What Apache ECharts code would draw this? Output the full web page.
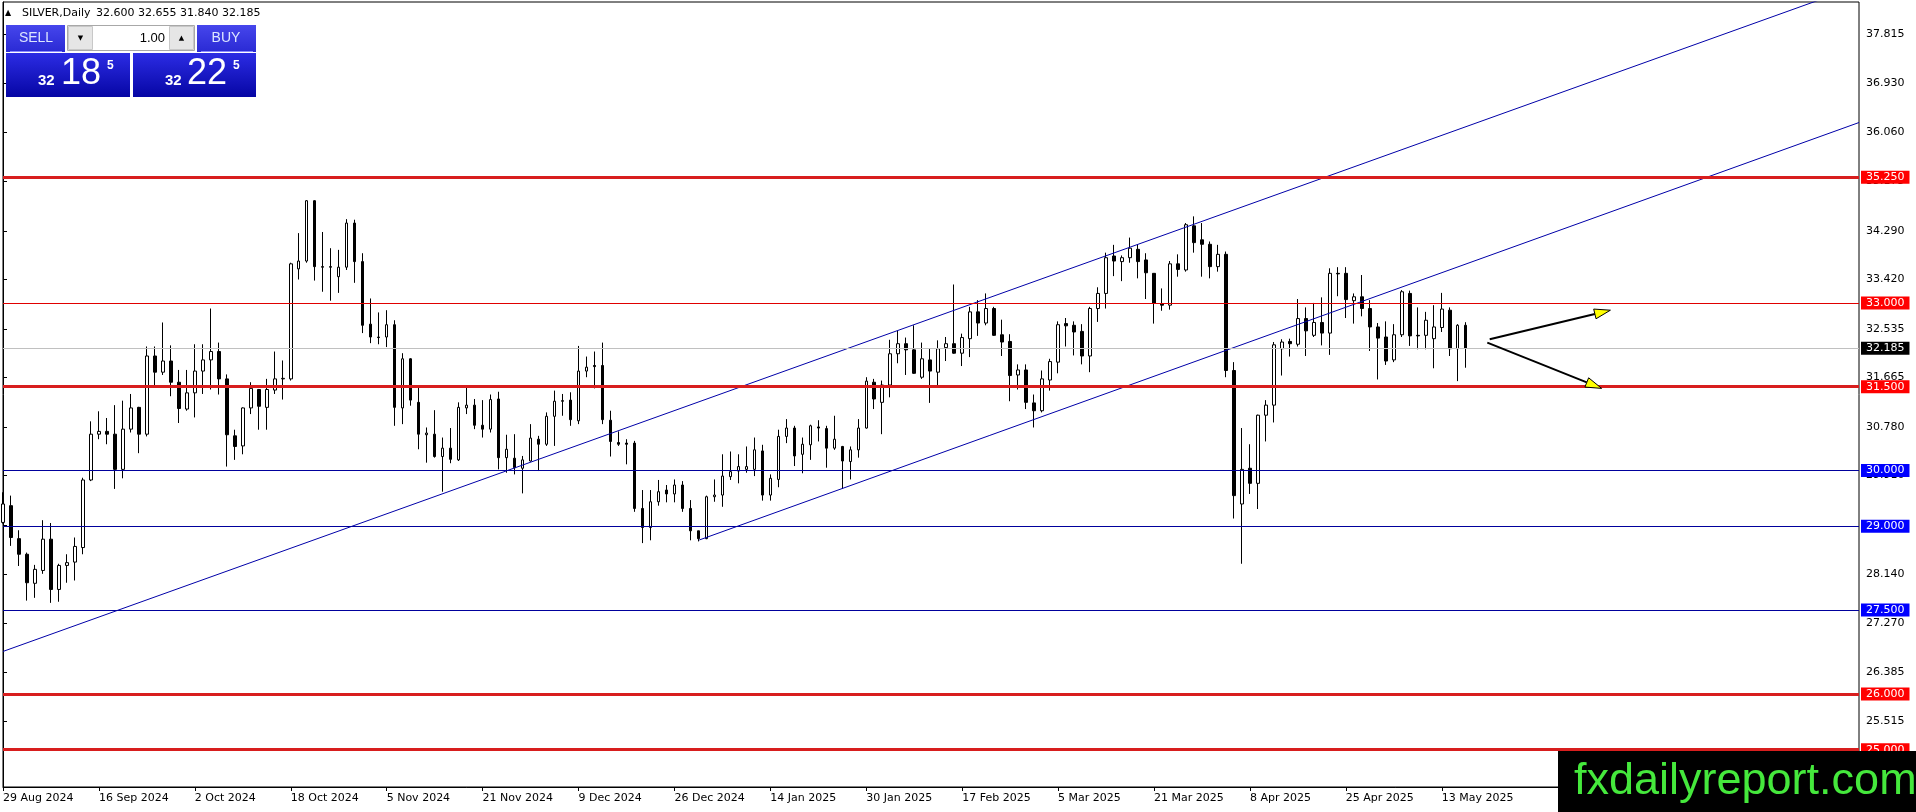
<!DOCTYPE html>
<html>
<head>
<meta charset="utf-8">
<title>SILVER, Daily</title>
<script src="https://cdn.jsdelivr.net/npm/echarts@6.0.0/dist/echarts.min.js"></script>
<style>
  html, body { margin: 0; padding: 0; background: #fff; }
  #chart { width: 1916px; height: 812px; }
</style>
</head>
<body>
<div id="chart"></div>
<script>
// daily bars from 29 Aug 2024, one per trading day (index = bar number)
const opens = [
  29.07, 29.37, 28.78, 28.50, 27.98, 28.21, 28.77, 27.87, 28.30, 28.36,
  28.62, 29.83, 30.65, 30.70, 30.65, 30.02, 30.74, 31.13, 30.65, 32.05,
  31.76, 31.96, 31.58, 31.10, 31.39, 31.78, 31.98, 32.13, 31.64, 30.62,
  30.44, 31.12, 31.45, 31.13, 31.44, 31.64, 31.64, 33.61, 33.75, 34.83,
  33.65, 33.65, 33.47, 33.64, 34.43, 33.74, 32.62, 32.39, 32.39, 32.61,
  31.12, 32.00, 31.22, 30.64, 30.65, 30.25, 30.40, 30.19, 31.12, 31.17,
  30.81, 30.74, 31.28, 30.23, 30.22, 30.04, 30.17, 30.56, 30.47, 30.97,
  31.25, 31.26, 30.89, 31.78, 31.88, 31.88, 30.90, 30.50, 30.49, 30.49,
  29.32, 28.98, 29.44, 29.65, 29.58, 29.74, 29.32, 28.92, 28.78, 29.53,
  29.56, 29.89, 29.99, 30.02, 30.02, 30.35, 29.56, 29.84, 30.61, 30.76,
  30.29, 30.46, 30.78, 30.75, 30.40, 30.43, 30.16, 30.37, 30.76, 31.58,
  31.22, 31.53, 32.09, 32.27, 32.16, 31.67, 31.98, 31.76, 32.20, 32.27,
  32.10, 32.36, 32.84, 32.64, 32.90, 32.43, 32.31, 31.71, 31.80, 31.21,
  31.07, 31.62, 31.94, 32.63, 32.60, 32.49, 32.05, 32.90, 33.17, 33.84,
  33.74, 33.81, 33.96, 33.77, 33.53, 32.99, 32.96, 33.70, 33.59, 34.38,
  34.13, 34.05, 33.65, 33.87, 31.79, 29.40, 30.04, 29.77, 30.99, 31.17,
  32.18, 32.31, 32.26, 32.72, 32.42, 32.65, 32.46, 33.53, 33.53, 33.04,
  33.11, 32.90, 32.57, 32.39, 31.98, 32.43, 33.17, 32.42, 32.42, 32.36,
  32.56, 32.87, 32.18, 32.600
];
const highs = [
  29.61, 29.55, 28.93, 28.53, 28.31, 29.11, 29.06, 28.33, 28.50, 28.80,
  29.87, 30.88, 31.06, 30.94, 31.17, 31.25, 31.37, 31.14, 32.22, 32.22,
  32.65, 32.24, 31.80, 31.80, 32.26, 32.26, 32.90, 32.29, 31.72, 30.73,
  31.13, 31.58, 31.46, 31.64, 32.13, 31.97, 33.72, 34.25, 34.84, 34.84,
  34.27, 33.98, 33.95, 34.50, 34.49, 33.89, 33.08, 32.83, 32.87, 32.69,
  32.10, 32.01, 31.49, 30.77, 31.08, 30.59, 30.76, 31.22, 31.49, 31.28,
  31.26, 31.36, 31.41, 30.64, 30.65, 30.26, 30.83, 30.62, 31.04, 31.43,
  31.37, 31.40, 32.23, 32.04, 32.13, 32.29, 31.07, 30.70, 30.56, 30.53,
  29.65, 29.65, 29.83, 29.74, 29.84, 29.81, 29.47, 28.92, 29.55, 29.84,
  30.29, 30.34, 30.29, 30.43, 30.59, 30.46, 29.93, 30.73, 30.92, 30.80,
  30.59, 30.82, 30.90, 30.80, 30.98, 30.44, 30.43, 30.92, 31.67, 31.64,
  31.61, 32.34, 32.50, 32.38, 32.60, 32.29, 32.18, 32.33, 32.39, 33.33,
  32.45, 32.93, 33.05, 33.17, 32.93, 32.70, 32.44, 31.90, 31.90, 31.36,
  31.79, 32.00, 32.67, 32.73, 32.67, 32.62, 32.93, 33.28, 33.90, 34.04,
  33.85, 34.17, 34.04, 33.89, 33.53, 33.26, 33.75, 33.87, 34.43, 34.55,
  34.43, 34.10, 34.04, 33.92, 31.94, 30.76, 30.47, 31.00, 31.26, 32.30,
  32.35, 32.36, 33.07, 32.92, 33.00, 33.10, 33.62, 33.64, 33.64, 33.17,
  33.50, 33.05, 32.64, 32.67, 32.62, 33.23, 33.22, 32.92, 32.84, 32.96,
  33.18, 32.92, 32.62, 32.655
];
const lows = [
  29.05, 28.65, 28.29, 27.67, 27.72, 28.15, 27.63, 27.65, 27.99, 28.03,
  28.50, 29.81, 30.56, 30.47, 29.67, 29.86, 30.68, 30.31, 30.61, 31.52,
  31.71, 31.33, 30.85, 31.07, 30.95, 31.37, 31.45, 31.36, 30.07, 30.19,
  30.29, 31.01, 30.73, 30.73, 31.37, 31.27, 31.61, 33.42, 33.72, 33.40,
  33.20, 33.04, 33.18, 33.59, 33.36, 32.46, 32.28, 32.26, 32.21, 30.80,
  30.83, 31.16, 30.38, 30.14, 30.23, 29.62, 30.13, 30.17, 31.01, 30.74,
  30.59, 30.68, 30.02, 29.96, 29.93, 29.59, 30.16, 29.99, 30.44, 30.44,
  30.98, 30.80, 30.83, 31.67, 31.47, 30.83, 30.25, 30.44, 30.11, 29.26,
  28.70, 28.75, 29.37, 29.43, 29.43, 29.26, 28.75, 28.73, 28.77, 29.44,
  29.35, 29.83, 29.77, 29.96, 29.90, 29.46, 29.46, 29.70, 30.49, 30.08,
  29.95, 30.19, 30.52, 30.05, 30.37, 29.67, 29.84, 30.23, 30.75, 31.10,
  30.65, 31.31, 31.92, 31.71, 31.73, 31.64, 31.21, 31.48, 31.96, 32.09,
  31.87, 32.03, 32.41, 32.60, 32.41, 32.05, 31.24, 31.45, 31.10, 30.77,
  31.04, 31.43, 31.74, 32.22, 32.06, 31.90, 31.76, 32.66, 32.90, 33.48,
  33.39, 33.72, 33.44, 33.07, 32.63, 32.86, 32.88, 33.47, 33.56, 33.90,
  33.47, 33.44, 33.56, 31.67, 29.14, 28.33, 29.58, 29.31, 30.52, 30.86,
  31.70, 32.04, 32.22, 32.05, 32.39, 32.24, 32.07, 33.12, 32.73, 32.63,
  32.76, 32.14, 31.63, 31.89, 31.94, 32.39, 32.23, 32.17, 32.17, 31.83,
  32.48, 32.05, 31.60, 31.840
];
const closes = [
  29.40, 28.80, 28.50, 27.99, 28.23, 28.77, 27.87, 28.30, 28.35, 28.64,
  29.83, 30.65, 30.70, 30.65, 30.02, 30.74, 31.12, 30.65, 32.05, 31.76,
  31.96, 31.58, 31.11, 31.39, 31.78, 31.98, 32.13, 31.64, 30.64, 30.43,
  31.12, 31.47, 31.15, 31.45, 31.64, 31.65, 33.70, 33.75, 34.83, 33.65,
  33.64, 33.64, 33.64, 34.43, 33.74, 32.60, 32.39, 32.38, 32.61, 31.13,
  32.00, 31.26, 30.65, 30.67, 30.25, 30.40, 30.20, 31.13, 31.17, 30.81,
  30.74, 31.27, 30.23, 30.38, 30.05, 30.19, 30.58, 30.47, 30.97, 31.24,
  31.24, 30.91, 31.78, 31.85, 31.86, 30.91, 30.52, 30.47, 30.47, 29.32,
  28.98, 29.44, 29.62, 29.58, 29.74, 29.32, 28.92, 28.78, 29.53, 29.56,
  29.90, 29.98, 30.07, 30.07, 30.37, 29.56, 29.86, 30.61, 30.76, 30.26,
  30.47, 30.80, 30.76, 30.40, 30.56, 30.17, 30.37, 30.76, 31.60, 31.28,
  31.53, 32.09, 32.27, 32.16, 31.74, 32.00, 31.78, 32.18, 32.27, 32.10,
  32.38, 32.84, 32.64, 32.90, 32.42, 32.30, 31.70, 31.80, 31.22, 31.07,
  31.64, 31.95, 32.61, 32.59, 32.48, 32.05, 32.90, 33.17, 33.81, 33.75,
  33.81, 33.98, 33.74, 33.54, 32.99, 32.96, 33.70, 33.60, 34.40, 34.08,
  34.05, 33.65, 33.87, 31.79, 29.55, 30.02, 29.77, 30.99, 31.17, 32.25,
  32.30, 32.27, 32.72, 32.50, 32.65, 32.46, 33.53, 33.52, 33.06, 33.11,
  32.90, 32.57, 32.37, 31.96, 32.43, 33.20, 32.41, 32.41, 32.69, 32.57,
  32.89, 32.18, 32.60, 32.185
];

// time axis labels, one every 12 bars
const tickLabels = [
  '29 Aug 2024', '16 Sep 2024', '2 Oct 2024', '18 Oct 2024', '5 Nov 2024',
  '21 Nov 2024', '9 Dec 2024', '26 Dec 2024', '14 Jan 2025', '30 Jan 2025',
  '17 Feb 2025', '5 Mar 2025', '21 Mar 2025', '8 Apr 2025', '25 Apr 2025',
  '13 May 2025'
];
const barsPerLabel = 12;
const priceTicks = [
  37.815, 36.930, 36.060, 35.175, 34.290, 33.420, 32.535, 31.665,
  30.780, 29.910, 29.025, 28.140, 27.270, 26.385, 25.515
];

// horizontal levels drawn on the chart
const redThickLevels = [35.25, 31.5, 26.0, 25.0];
const redThinLevels = [33.0];
const blueLevels = [30.0, 29.0, 27.5];
const lastPrice = closes[closes.length - 1];

// channel lines and arrows: [bar index, price] end points
const channelTop = [[0, 26.76], [232.2, 38.68]];
const channelBottom = [[87.1, 28.755], [232.2, 36.23]];
const arrowUp = [[186.0, 32.35], [201.1, 32.87]];
const arrowDown = [[185.7, 32.29], [200.0, 31.47]];

const FONT = 'DejaVu Sans';
const chart = echarts.init(document.getElementById('chart'));

const candles = opens.map((o, i) => [i, o, closes[i], lows[i], highs[i]]);
const labelIdx = tickLabels.map((_, i) => i * barsPerLabel);

function levelLine(value, lineColor, width, boxColor) {
  return {
    yAxis: value,
    lineStyle: { color: lineColor, width: width, type: 'solid' },
    label: {
      show: true,
      position: 'end',
      distance: 2,
      formatter: value.toFixed(3),
      color: '#fff',
      backgroundColor: boxColor,
      fontFamily: FONT,
      fontSize: 11,
      lineHeight: 12,
      padding: [1, 5, 0, 5]
    }
  };
}

const levelData = [].concat(
  redThickLevels.map(v => levelLine(v, '#d81e1e', 3, '#ff0000')),
  redThinLevels.map(v => levelLine(v, '#e00000', 1, '#ff0000')),
  blueLevels.map(v => levelLine(v, '#00009c', 1, '#0000ff')),
  [levelLine(lastPrice, '#c0c0c0', 1, '#000000')]
);

const option = {
  animation: false,
  backgroundColor: '#ffffff',
  grid: {
    left: 3, right: 57, top: 2, bottom: 25,
    show: true, borderColor: '#000', borderWidth: 1, backgroundColor: 'transparent'
  },
  xAxis: {
    type: 'value',
    min: 0,
    max: 232.2,
    splitLine: { show: false },
    axisLine: { show: true, onZero: false, lineStyle: { color: '#000', width: 1 } },
    axisTick: { show: true, length: 4, customValues: labelIdx, lineStyle: { color: '#000' } },
    axisLabel: {
      customValues: labelIdx,
      formatter: v => tickLabels[Math.round(v / barsPerLabel)] || '',
      align: 'left',
      margin: 6,
      color: '#000',
      fontFamily: FONT,
      fontSize: 11
    }
  },
  yAxis: {
    type: 'value',
    position: 'right',
    min: 24.333,
    max: 38.388,
    scale: true,
    splitLine: { show: false },
    axisLine: { show: true, lineStyle: { color: '#000', width: 1 } },
    axisTick: { show: true, length: 4, customValues: priceTicks, lineStyle: { color: '#000' } },
    axisLabel: {
      customValues: priceTicks,
      formatter: v => v.toFixed(3),
      margin: 7,
      color: '#000',
      fontFamily: FONT,
      fontSize: 11
    }
  },
  series: [
    {
      type: 'line',
      data: [],
      clip: false,
      silent: true,
      markLine: { silent: true, symbol: ['none', 'none'], animation: false, data: levelData }
    },
    {
      type: 'line', data: channelTop, symbol: 'none', silent: true, clip: true,
      lineStyle: { color: '#0000a8', width: 1 }
    },
    {
      type: 'line', data: channelBottom, symbol: 'none', silent: true, clip: true,
      lineStyle: { color: '#0000a8', width: 1 }
    },
    {
      type: 'candlestick',
      data: candles,
      barWidth: 3,
      clip: true,
      itemStyle: {
        color: '#ffffff', color0: '#000000',
        borderColor: '#000000', borderColor0: '#000000', borderWidth: 1
      }
    }
  ]
};

chart.setOption(option);

// arrows (data points converted to pixels)
function arrowShapes(pts) {
  const a = chart.convertToPixel({ gridIndex: 0 }, pts[0]);
  const b = chart.convertToPixel({ gridIndex: 0 }, pts[1]);
  const dx = b[0] - a[0], dy = b[1] - a[1];
  const len = Math.sqrt(dx * dx + dy * dy);
  const ux = dx / len, uy = dy / len;
  const headLen = 16, headHalf = 5;
  const bx = b[0] - ux * headLen, by = b[1] - uy * headLen;
  return [
    { type: 'line', z: 50, shape: { x1: a[0], y1: a[1], x2: bx, y2: by },
      style: { stroke: '#000', lineWidth: 2 } },
    { type: 'polygon', z: 51,
      shape: { points: [[b[0], b[1]], [bx - uy * headHalf, by + ux * headHalf], [bx + uy * headHalf, by - ux * headHalf]] },
      style: { fill: '#ffff00', stroke: '#000', lineWidth: 1 } }
  ];
}

function txt(x, y, text, size, color, extra) {
  return Object.assign({
    type: 'text', z: 101, x: x, y: y,
    style: Object.assign({ text: text, fill: color, fontSize: size, fontFamily: FONT, verticalAlign: 'middle' }, extra || {})
  });
}
function box(x, y, w, h, fill, stroke) {
  return { type: 'rect', z: 100, shape: { x: x, y: y, width: w, height: h },
    style: { fill: fill, stroke: stroke || null, lineWidth: 1 } };
}
const headFill = new echarts.graphic.LinearGradient(0, 0, 0, 1, [
  { offset: 0, color: '#4646ec' }, { offset: 1, color: '#2a2ad4' }]);
const priceFill = new echarts.graphic.LinearGradient(0, 0, 0, 1, [
  { offset: 0, color: '#2c2ce4' }, { offset: 1, color: '#0606a4' }]);

const panel = [
  txt(5, 13, '▲', 8, '#000'),
  txt(22, 13, 'SILVER,Daily', 11, '#000'),
  txt(96, 13, opens[opens.length - 1].toFixed(3) + ' ' + highs[highs.length - 1].toFixed(3) + ' ' +
    lows[lows.length - 1].toFixed(3) + ' ' + lastPrice.toFixed(3), 11, '#000'),
  box(6, 25, 59, 27, headFill),
  box(197, 25, 59, 27, headFill),
  { type: 'line', z: 101, shape: { x1: 10, y1: 51.5, x2: 62, y2: 51.5 }, style: { stroke: '#8a8aff', lineWidth: 1 } },
  { type: 'line', z: 101, shape: { x1: 201, y1: 51.5, x2: 253, y2: 51.5 }, style: { stroke: '#8a8aff', lineWidth: 1 } },
  txt(36, 38, 'SELL', 14, '#dde6ff', { align: 'center', fontFamily: 'Liberation Sans' }),
  txt(226, 38, 'BUY', 14, '#dde6ff', { align: 'center', fontFamily: 'Liberation Sans' }),
  box(67.5, 25.5, 127, 25, '#ffffff', '#a8a8a8'),
  box(68.5, 26.5, 24, 23, '#e6e6e6', '#c8c8c8'),
  box(169.5, 26.5, 24, 23, '#e6e6e6', '#c8c8c8'),
  txt(80.5, 38, '▼', 7, '#000', { align: 'center' }),
  txt(181.5, 38, '▲', 7, '#000', { align: 'center' }),
  txt(165, 38, '1.00', 13, '#000', { align: 'right', fontFamily: 'Liberation Sans' }),
  box(6, 53, 124, 44, priceFill),
  box(133, 53, 123, 44, priceFill),
  txt(38, 81, '32', 15, '#fff', { fontWeight: 'bold', fontFamily: 'Liberation Sans' }),
  txt(61, 74, '18', 36, '#fff', { fontFamily: 'Liberation Sans' }),
  txt(107, 66, '5', 12, '#fff', { fontWeight: 'bold', fontFamily: 'Liberation Sans' }),
  txt(165, 81, '32', 15, '#fff', { fontWeight: 'bold', fontFamily: 'Liberation Sans' }),
  txt(187, 74, '22', 36, '#fff', { fontFamily: 'Liberation Sans' }),
  txt(233, 66, '5', 12, '#fff', { fontWeight: 'bold', fontFamily: 'Liberation Sans' }),
  box(1558, 751, 358, 61, '#000000'),
  txt(1574, 782, 'fxdailyreport.com', 45, '#45e83c', { fontFamily: 'Liberation Sans' })
];

chart.setOption({ graphic: [].concat(arrowShapes(arrowUp), arrowShapes(arrowDown), panel) });
</script>
</body>
</html>
